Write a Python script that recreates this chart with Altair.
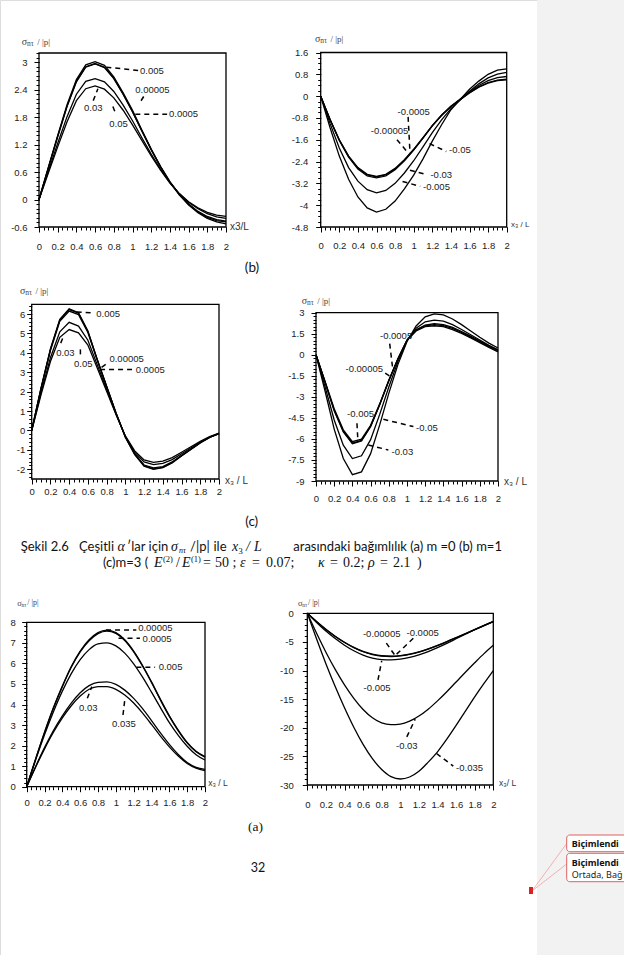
import altair as alt
import pandas as pd

W, H = 624, 955
SANS = "Liberation Sans"
SERIF = "Liberation Serif"
DOC = "Lato"

X = [round(i * 0.1, 1) for i in range(21)]
XMINOR = [round(i * 0.05, 2) for i in range(41)]
XMAJOR = [round(i * 0.2, 1) for i in range(11)]

# ---------------- data ----------------
# (b) m=1, left panel
B1_NAMES = ["0.005", "0.0005", "0.00005", "0.03", "0.05"]
B1_VALS = [
    [0, 0.7, 1.4, 2.07, 2.62, 2.94, 3.01, 2.93, 2.68, 2.33, 1.95, 1.52, 1.1, 0.72, 0.38, 0.1, -0.12, -0.29, -0.41, -0.49, -0.53],
    [0, 0.69, 1.38, 2.04, 2.58, 2.9, 2.97, 2.89, 2.65, 2.3, 1.92, 1.5, 1.09, 0.71, 0.38, 0.11, -0.1, -0.27, -0.39, -0.46, -0.49],
    [0, 0.69, 1.37, 2.03, 2.57, 2.89, 2.96, 2.88, 2.64, 2.3, 1.92, 1.5, 1.09, 0.72, 0.39, 0.12, -0.1, -0.26, -0.37, -0.44, -0.47],
    [0, 0.62, 1.23, 1.81, 2.3, 2.58, 2.64, 2.57, 2.36, 2.06, 1.72, 1.35, 0.99, 0.66, 0.37, 0.13, -0.06, -0.2, -0.31, -0.38, -0.41],
    [0, 0.58, 1.15, 1.7, 2.16, 2.42, 2.48, 2.41, 2.22, 1.95, 1.63, 1.29, 0.95, 0.64, 0.36, 0.13, -0.05, -0.18, -0.28, -0.34, -0.37],
]
# (b) m=1, right panel
B2_NAMES = ["-0.0005", "-0.00005", "-0.005", "-0.03", "-0.05"]
B2_VALS = [
    [0, -0.85, -1.6, -2.2, -2.62, -2.87, -2.94, -2.87, -2.65, -2.33, -1.95, -1.52, -1.08, -0.7, -0.38, -0.13, 0.12, 0.33, 0.48, 0.57, 0.6],
    [0, -0.86, -1.61, -2.21, -2.64, -2.89, -2.96, -2.89, -2.67, -2.35, -1.96, -1.53, -1.08, -0.7, -0.38, -0.12, 0.13, 0.34, 0.5, 0.59, 0.62],
    [0, -0.87, -1.63, -2.24, -2.67, -2.93, -3.0, -2.93, -2.7, -2.37, -1.98, -1.54, -1.09, -0.7, -0.37, -0.11, 0.16, 0.39, 0.57, 0.68, 0.72],
    [0, -1.0, -1.9, -2.62, -3.12, -3.43, -3.55, -3.46, -3.2, -2.82, -2.37, -1.86, -1.34, -0.87, -0.46, -0.14, 0.18, 0.45, 0.67, 0.81, 0.87],
    [0, -1.15, -2.2, -3.05, -3.7, -4.1, -4.25, -4.15, -3.85, -3.4, -2.9, -2.3, -1.65, -1.05, -0.5, -0.12, 0.25, 0.55, 0.8, 0.95, 1.0],
]
# (c) m=3, left panel
C1_NAMES = ["0.005", "0.0005", "0.00005", "0.03", "0.05"]
C1_VALS = [
    [0, 2.2, 4.2, 5.72, 6.27, 6.07, 5.12, 3.66, 2.28, 0.9, -0.35, -1.24, -1.84, -2.0, -1.92, -1.67, -1.32, -0.98, -0.64, -0.36, -0.16],
    [0, 2.15, 4.12, 5.62, 6.15, 5.97, 5.05, 3.62, 2.26, 0.9, -0.33, -1.2, -1.78, -1.93, -1.86, -1.62, -1.28, -0.95, -0.62, -0.35, -0.16],
    [0, 2.18, 4.17, 5.69, 6.23, 6.04, 5.1, 3.65, 2.27, 0.9, -0.34, -1.22, -1.82, -1.98, -1.9, -1.65, -1.3, -0.97, -0.63, -0.36, -0.16],
    [0, 1.95, 3.75, 5.08, 5.57, 5.38, 4.65, 3.38, 2.12, 0.85, -0.3, -1.12, -1.62, -1.76, -1.7, -1.5, -1.2, -0.9, -0.6, -0.34, -0.15],
    [0, 1.85, 3.55, 4.8, 5.2, 5.03, 4.4, 3.22, 2.02, 0.82, -0.28, -1.05, -1.52, -1.64, -1.58, -1.4, -1.12, -0.84, -0.56, -0.32, -0.14],
]
# (c) m=3, right panel
C2_NAMES = ["-0.0005", "-0.00005", "-0.005", "-0.03", "-0.05"]
C2_VALS = [
    [0, -1.95, -3.95, -5.45, -6.3, -6.1, -5.1, -3.55, -1.85, -0.3, 1.05, 1.75, 2.07, 2.15, 2.08, 1.88, 1.6, 1.28, 0.93, 0.6, 0.29],
    [0, -1.9, -3.85, -5.35, -6.2, -6.02, -5.03, -3.5, -1.82, -0.28, 1.03, 1.7, 2.0, 2.07, 2.0, 1.8, 1.52, 1.2, 0.87, 0.53, 0.21],
    [0, -1.98, -4.0, -5.5, -6.35, -6.15, -5.13, -3.57, -1.86, -0.3, 1.05, 1.78, 2.12, 2.22, 2.15, 1.95, 1.66, 1.33, 0.98, 0.64, 0.33],
    [0, -2.3, -4.65, -6.45, -7.4, -7.2, -6.05, -4.25, -2.3, -0.5, 1.0, 1.9, 2.35, 2.47, 2.4, 2.15, 1.8, 1.43, 1.05, 0.68, 0.36],
    [0, -2.6, -5.3, -7.4, -8.55, -8.35, -7.05, -5.0, -2.75, -0.7, 0.95, 2.05, 2.7, 2.92, 2.85, 2.55, 2.15, 1.7, 1.25, 0.83, 0.48],
]
# (a) m=0, left panel
A1_NAMES = ["0.00005", "0.0005", "0.005", "0.03", "0.035"]
A1_VALS = [
    [0, 1.35, 2.65, 3.85, 4.9, 5.85, 6.6, 7.15, 7.5, 7.62, 7.5, 7.15, 6.6, 5.9, 5.1, 4.25, 3.45, 2.75, 2.15, 1.72, 1.46],
    [0, 1.34, 2.63, 3.82, 4.87, 5.81, 6.56, 7.1, 7.45, 7.57, 7.46, 7.11, 6.56, 5.86, 5.07, 4.22, 3.42, 2.72, 2.13, 1.7, 1.44],
    [0, 1.3, 2.53, 3.65, 4.65, 5.5, 6.18, 6.67, 6.95, 7.0, 6.85, 6.5, 5.98, 5.33, 4.6, 3.85, 3.12, 2.5, 1.97, 1.56, 1.3],
    [0, 0.98, 1.9, 2.73, 3.45, 4.07, 4.57, 4.92, 5.08, 5.1, 4.98, 4.7, 4.3, 3.8, 3.22, 2.62, 2.06, 1.57, 1.18, 0.94, 0.84],
    [0, 0.95, 1.84, 2.65, 3.35, 3.94, 4.41, 4.74, 4.87, 4.87, 4.74, 4.46, 4.07, 3.58, 3.03, 2.46, 1.94, 1.49, 1.13, 0.9, 0.78],
]
# (a) m=0, right panel
A2_NAMES = ["-0.00005", "-0.0005", "-0.005", "-0.03", "-0.035"]
A2_VALS = [
    [0, -1.45, -2.8, -4.0, -5.05, -5.95, -6.65, -7.15, -7.42, -7.48, -7.38, -7.12, -6.72, -6.2, -5.6, -4.95, -4.25, -3.55, -2.85, -2.15, -1.45],
    [0, -1.47, -2.83, -4.05, -5.1, -6.0, -6.72, -7.22, -7.5, -7.55, -7.45, -7.18, -6.78, -6.25, -5.64, -4.98, -4.28, -3.57, -2.86, -2.16, -1.46],
    [0, -1.6, -3.1, -4.42, -5.57, -6.55, -7.3, -7.82, -8.1, -8.15, -8.02, -7.72, -7.26, -6.68, -6.0, -5.25, -4.45, -3.65, -2.85, -2.1, -1.4],
    [0, -3.5, -6.8, -9.8, -12.5, -14.85, -16.8, -18.25, -19.15, -19.45, -19.35, -18.85, -17.95, -16.75, -15.3, -13.7, -12.0, -10.3, -8.65, -7.05, -5.6],
    [0, -4.5, -8.8, -12.8, -16.5, -19.9, -22.9, -25.4, -27.3, -28.55, -28.95, -28.6, -27.6, -26.0, -24.2, -22.0, -19.6, -17.1, -14.6, -12.25, -10.0],
]

# tick values
B1_YMAJ = [-0.6, 0, 0.6, 1.2, 1.8, 2.4, 3]
B2_YMAJ = [-4.8, -4, -3.2, -2.4, -1.6, -0.8, 0, 0.8, 1.6]
C1_YMAJ = [-2, -1, 0, 1, 2, 3, 4, 5, 6]
C2_YMAJ = [-9, -7.5, -6, -4.5, -3, -1.5, 0, 1.5, 3]
A1_YMAJ = [0, 1, 2, 3, 4, 5, 6, 7, 8]
A2_YMAJ = [-30, -25, -20, -15, -10, -5, 0]

# curve annotations (text, x, y, align) and dashed leaders (x1, y1, x2, y2), data units
B1_LABS = [("0.005", 1.08, 2.8, "left"), ("0.00005", 1.03, 2.4, "left"), ("0.0005", 1.39, 1.87, "left"),
           ("0.03", 0.58, 2.0, "center"), ("0.05", 0.85, 1.65, "center")]
B1_LEADS = [(0.72, 2.89, 1.06, 2.82), (1.12, 2.25, 1.08, 2.12), (1.03, 1.86, 1.37, 1.86),
            (0.58, 2.16, 0.63, 2.42), (0.79, 2.03, 0.82, 1.88)]
B2_LABS = [("-0.0005", 1.0, -0.59, "center"), ("-0.00005", 0.74, -1.29, "center"), ("-0.05", 1.38, -1.96, "left"),
           ("-0.03", 1.18, -2.88, "left"), ("-0.005", 1.10, -3.34, "left")]
B2_LEADS = [(0.94, -0.76, 0.96, -2.08), (0.82, -1.6, 0.94, -2.08), (1.17, -1.74, 1.35, -2.03),
            (0.96, -2.72, 1.14, -2.88), (0.88, -3.13, 1.07, -3.31)]
C1_LABS = [("0.005", 0.69, 6.0, "left"), ("0.03", 0.36, 4.0, "center"), ("0.05", 0.55, 3.45, "center"),
           ("0.00005", 0.83, 3.7, "left"), ("0.0005", 1.11, 3.14, "left")]
C1_LEADS = [(0.48, 6.1, 0.665, 6.05), (0.31, 4.5, 0.34, 4.86), (0.52, 3.92, 0.52, 4.3),
            (0.79, 3.4, 0.73, 3.2), (0.73, 3.14, 1.085, 3.14)]
C2_LABS = [("-0.0005", 0.88, 1.31, "center"), ("-0.00005", 0.53, -1.02, "center"), ("-0.005", 0.49, -4.24, "center"),
           ("-0.05", 1.1, -5.24, "left"), ("-0.03", 0.83, -6.95, "left")]
C2_LEADS = [(0.81, 0.79, 0.84, -0.84), (0.76, -1.31, 0.83, -1.6), (0.45, -4.88, 0.46, -6.07),
            (0.74, -4.6, 1.07, -5.12), (0.575, -6.43, 0.795, -6.79)]
A1_LABS = [("0.00005", 1.25, 7.71, "left"), ("0.0005", 1.30, 7.19, "left"), ("0.005", 1.48, 5.84, "left"),
           ("0.03", 0.69, 3.81, "center"), ("0.035", 1.09, 3.05, "center")]
A1_LEADS = [(0.89, 7.63, 1.23, 7.63), (1.03, 7.22, 1.27, 7.22), (1.23, 5.81, 1.44, 5.81),
            (0.68, 4.3, 0.73, 4.87), (1.08, 3.49, 1.10, 4.22)]
A2_LABS = [("-0.00005", 0.8, -3.67, "center"), ("-0.0005", 1.24, -3.5, "center"), ("-0.005", 0.75, -13.1, "center"),
           ("-0.03", 1.07, -23.1, "center"), ("-0.035", 1.60, -27.0, "left")]
A2_LEADS = [(0.85, -5.2, 0.94, -7.3), (1.14, -4.37, 0.95, -7.3), (0.76, -11.65, 0.8, -8.3),
            (1.07, -21.6, 1.16, -18.5), (1.39, -24.5, 1.57, -26.7)]


def steps(lo, hi, st):
    n = int(round((hi - lo) / st))
    return [round(lo + i * st, 3) for i in range(n + 1)]


PANELS = [
    dict(names=B1_NAMES, vals=B1_VALS, x0=39, x1=226, yt=53, yb=227, ydom=[-0.6, 3.2],
         ymaj=B1_YMAJ, ymin=steps(-0.6, 3.2, 0.1), ypad=7, xpad=9, interp="linear",
         labs=B1_LABS, leads=B1_LEADS),
    dict(names=B2_NAMES, vals=B2_VALS, x0=320.7, x1=506.7, yt=52.5, yb=227, ydom=[-4.8, 1.6],
         ymaj=B2_YMAJ, ymin=steps(-4.8, 1.6, 0.2), ypad=8, xpad=8.5, interp="linear",
         labs=B2_LABS, leads=B2_LEADS),
    dict(names=C1_NAMES, vals=C1_VALS, x0=31.7, x1=219, yt=304.3, yb=479, ydom=[-2.5, 6.5],
         ymaj=C1_YMAJ, ymin=steps(-2.4, 6.4, 0.2), ypad=2, xpad=2, interp="linear",
         labs=C1_LABS, leads=C1_LEADS),
    dict(names=C2_NAMES, vals=C2_VALS, x0=316, x1=498, yt=312.7, yb=481, ydom=[-9, 3],
         ymaj=C2_YMAJ, ymin=steps(-9, 3, 0.25), ypad=7, xpad=7.5, interp="linear",
         labs=C2_LABS, leads=C2_LEADS),
    dict(names=A1_NAMES, vals=A1_VALS, x0=26.7, x1=205, yt=622.3, yb=786.7, ydom=[0, 8],
         ymaj=A1_YMAJ, ymin=steps(0, 8, 0.2), ypad=6.5, xpad=6, interp="monotone",
         labs=A1_LABS, leads=A1_LEADS),
    dict(names=A2_NAMES, vals=A2_VALS, x0=307.3, x1=493.3, yt=613.3, yb=785, ydom=[-30, 0],
         ymaj=A2_YMAJ, ymin=steps(-30, 0, 1), ypad=9, xpad=9.5, interp="monotone",
         labs=A2_LABS, leads=A2_LEADS),
]

EMPTY = alt.Data(values=[{"k": 0}])


def txt(s, x, y, size=12, font=DOC, align="left", style="normal", weight="normal", color="#111"):
    return alt.Chart(EMPTY).mark_text(
        text=s, align=align, baseline="middle", font=font, fontSize=size,
        fontStyle=style, fontWeight=weight, color=color
    ).encode(x=alt.value(x), y=alt.value(y))


def rect(x0, x1, y0, y1, fill=None, stroke=None, sw=1.0, r=0):
    kw = dict(strokeWidth=sw, cornerRadius=r)
    if fill is None:
        kw["fillOpacity"] = 0
        kw["fill"] = "white"
    else:
        kw["fill"] = fill
    if stroke is not None:
        kw["stroke"] = stroke
    return alt.Chart(EMPTY).mark_rect(**kw).encode(
        x=alt.value(x0), x2=alt.value(x1), y=alt.value(y0), y2=alt.value(y1))


def seg(x0, y0, x1, y1, color, sw=1.0):
    return alt.Chart(EMPTY).mark_rule(color=color, strokeWidth=sw).encode(
        x=alt.value(x0), y=alt.value(y0), x2=alt.value(x1), y2=alt.value(y1))


def long_df(names, vals):
    rows = []
    for n, v in zip(names, vals):
        for xv, yv in zip(X, v):
            rows.append({"x": xv, "y": yv, "s": n})
    return pd.DataFrame(rows)


AXC = dict(domain=False, grid=False, title=None, tickColor="black", tickWidth=1)
LBL = dict(labelFont=SANS, labelFontSize=9.5, labelColor="#222", labelFlush=False,
           labelOverlap=False, labelExpr="'' + datum.value")


def panel_layers(g):
    sx = lambda: alt.Scale(domain=[0, 2], range=[g["x0"], g["x1"]], nice=False, zero=False)
    sy = lambda: alt.Scale(domain=g["ydom"], range=[g["yb"], g["yt"]], nice=False, zero=False)
    out = []
    minor_x = alt.Axis(orient="bottom", offset=g["yb"] - H, values=XMINOR, labels=False, tickSize=3, **AXC)
    minor_y = alt.Axis(orient="left", offset=-g["x0"], values=g["ymin"], labels=False, tickSize=3, **AXC)
    out.append(alt.Chart(long_df(g["names"], g["vals"])).mark_line(
        color="black", strokeWidth=1.3, interpolate=g["interp"]
    ).encode(
        x=alt.X("x:Q", scale=sx(), axis=minor_x),
        y=alt.Y("y:Q", scale=sy(), axis=minor_y),
        detail="s:N",
    ))
    major_x = alt.Axis(orient="bottom", offset=g["yb"] - H, values=XMAJOR, tickSize=5,
                       labelPadding=g["xpad"], **LBL, **AXC)
    major_y = alt.Axis(orient="left", offset=-g["x0"], values=g["ymaj"], tickSize=5,
                       labelPadding=g["ypad"], **LBL, **AXC)
    lead = pd.DataFrame(g["leads"], columns=["x1", "y1", "x2", "y2"])
    out.append(alt.Chart(lead).mark_rule(color="black", strokeWidth=1.5, strokeDash=[5, 4]).encode(
        x=alt.X("x1:Q", scale=sx(), axis=major_x),
        y=alt.Y("y1:Q", scale=sy(), axis=major_y),
        x2="x2:Q", y2="y2:Q",
    ))
    for al in ("left", "center"):
        rows = [{"t": r[0], "x": r[1], "y": r[2]} for r in g["labs"] if r[3] == al]
        if rows:
            out.append(alt.Chart(pd.DataFrame(rows)).mark_text(
                align=al, baseline="middle", font=SANS, fontSize=9.5, color="#222"
            ).encode(
                x=alt.X("x:Q", scale=sx(), axis=None),
                y=alt.Y("y:Q", scale=sy(), axis=None),
                text="t:N",
            ))
    out.append(rect(g["x0"], g["x1"], g["yt"], g["yb"], stroke="black", sw=1.3))
    return out


def ytitle(x, y, big=True):
    if big:
        return [txt("σ", x, y, 10, SERIF, color="#444"),
                txt("nτ", x + 5.2, y + 2, 7.5, SERIF, color="#444"),
                txt("/ |p|", x + 15.5, y, 9, SERIF, color="#444")]
    return [txt("σ", x, y, 8.5, SERIF, color="#444"),
            txt("nτ", x + 4.3, y + 1.6, 5.5, SERIF, color="#444"),
            txt("/ |p|", x + 10, y, 8, SERIF, color="#444")]


layers = [rect(537, 624, 0, 955, fill="#f2f2f2")]
for g in PANELS:
    layers += panel_layers(g)

# axis titles
layers += ytitle(21.7, 41.7) + ytitle(315, 39.3) + ytitle(20, 290.7) + ytitle(301.7, 301)
layers += ytitle(17.3, 603.3, big=False) + ytitle(298, 603.3, big=False)
layers += [
    txt("x3/L", 230, 227, 10, SANS, color="#333"),
    txt("x₃ / L", 511, 225, 8, SANS, color="#333"),
    txt("x₃ / L", 225, 480.7, 10, SANS, color="#333"),
    txt("x₃ / L", 504, 482.3, 10, SANS, color="#333"),
    txt("x₃ / L", 208.3, 783.3, 8.5, SANS, color="#333"),
    txt("x₃/ L", 499, 783.3, 8.5, SANS, color="#333"),
]

# page text
CAP = 13
MS = 14  # math size
L1, L2 = 547, 563
layers += [
    txt("(b)", 252, 268, 13.5, DOC, align="center"),
    txt("(c)", 251.7, 521.7, 13.5, DOC, align="center"),
    # caption line 1
    txt("Şekil 2.6", 20.7, L1, CAP, DOC),
    txt("Çeşitli", 79, L1, CAP, DOC),
    txt("α", 117.5, L1, MS, SERIF, style="italic"),
    txt("′lar için", 127, L1, CAP, DOC),
    txt("σ", 171, L1, MS, SERIF, style="italic"),
    txt("nτ", 179, L1 + 3.5, 8, SERIF, style="italic"),
    txt("/|p|", 190, L1, CAP, DOC),
    txt("ile", 213.5, L1, CAP, DOC),
    txt("x", 232, L1, MS, SERIF, style="italic"),
    txt("3", 238.5, L1 + 3.5, 8.5, SERIF),
    txt("/", 246, L1, MS, SERIF, style="italic"),
    txt("L", 254, L1, MS, SERIF, style="italic"),
    txt("arasındaki bağımlılık (a) m =0 (b) m=1", 293.3, L1, CAP, DOC),
    # caption line 2
    txt("(c)m=3 (", 103, L2, CAP, DOC),
    txt("E", 154, L2, MS, SERIF, style="italic"),
    txt("(2)", 163, L2 - 4.5, 8.5, SERIF),
    txt("/", 176, L2, MS, SERIF),
    txt("E", 182, L2, MS, SERIF, style="italic"),
    txt("(1)", 191, L2 - 4.5, 8.5, SERIF),
    txt("=", 203, L2, MS, SERIF),
    txt("50 ;", 215, L2, MS, SERIF),
    txt("ε", 240, L2, MS, SERIF, style="italic"),
    txt("=", 252, L2, MS, SERIF),
    txt("0.07;", 266, L2, MS, SERIF),
    txt("κ", 318, L2, MS, SERIF, style="italic"),
    txt("=", 330, L2, MS, SERIF),
    txt("0.2;", 343, L2, MS, SERIF),
    txt("ρ", 368, L2, MS, SERIF, style="italic"),
    txt("=", 380, L2, MS, SERIF),
    txt("2.1", 393, L2, MS, SERIF),
    txt(")", 417, L2, MS, SERIF),
    txt("(a)", 255.5, 826.7, 13.5, SERIF, align="center"),
    txt("32", 258, 868, 12.5, DOC, align="center"),
]

# comment balloons in the margin
layers += [
    seg(532, 891, 566.7, 843.5, "#f0a0a0", 0.8),
    seg(532, 891, 566.7, 864, "#f0a0a0", 0.8),
    rect(529, 533, 887, 894, fill="#e02020"),
    rect(566.7, 640, 835, 851.7, fill="white", stroke="#e06060", sw=1, r=3),
    rect(566.7, 640, 853.3, 881.7, fill="white", stroke="#e06060", sw=1, r=3),
    txt("Biçimlendi", 571.7, 843.5, 9, "Noto Sans", weight="bold", color="#111"),
    txt("Biçimlendi", 571.7, 862.5, 9, "Noto Sans", weight="bold", color="#111"),
    txt("Ortada, Bağ", 571.7, 874.5, 9, "Noto Sans", color="#222"),
]

chart = alt.layer(*layers).properties(
    width=W, height=H, padding=0,
    autosize=alt.AutoSizeParams(type="none"),
).resolve_scale(x="independent", y="independent").resolve_axis(
    x="independent", y="independent"
).configure_view(stroke=None).configure(background="white")

chart.save("out.html", embed_options={"renderer": "svg", "actions": False})
